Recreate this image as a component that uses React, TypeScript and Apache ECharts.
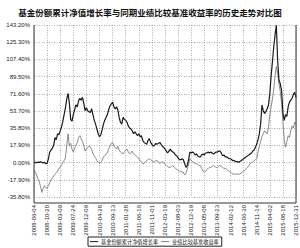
import React, { useEffect, useRef } from "react";
import * as echarts from "echarts";

const titleText = "基金份额累计净值增长率与同期业绩比较基准收益率的历史走势对比图";
const seriesNames = ["基金份额累计净值增长率", "业绩比较基准收益率"];

const dateLabels = [
  "2008-06-04", "2008-10-20", "2009-03-09", "2009-07-24", "2009-12-09",
  "2010-04-28", "2010-09-13", "2011-01-28", "2011-06-16", "2011-11-01",
  "2012-03-19", "2012-08-03", "2012-12-19", "2013-05-08", "2013-09-23",
  "2014-02-12", "2014-06-30", "2014-11-14", "2015-04-02", "2015-08-18",
  "2015-12-31",
];

const yMin = -35.8;
const yMax = 143.2;
const yStep = 17.9;

const fundValues = [
  0, 0.3, -0.2, 0.5, 0.2, 0.8, 0.4, -0.5, 0.3, -1.2,
  -0.8, 4, 11, 13, 15, 18, 26, 24, 30, 29,
  33, 37, 43, 50, 57, 66, 72, 62, 45, 43,
  50, 55, 60, 58, 64, 67, 65, 68, 62, 54,
  57, 54, 53, 52, 56, 50, 44, 40, 35, 30,
  27, 29, 34, 40, 44, 47, 50, 55, 59, 61,
  63, 58, 56, 58, 55, 47, 42, 40, 47, 45,
  44, 42, 38, 36, 35, 33, 30, 32, 30, 28,
  30, 27, 28, 23, 21, 20, 19, 23, 25, 21,
  19, 17, 18, 20, 19, 20, 21, 19, 17, 16,
  14, 12, 10, 12, 14, 12, 11, 10, 8, 7,
  5, 3, 3, 4, 3, -1, -5, -3, 3, 11,
  10, 11, 10, 8, 9, 7, 6, 6, 8, 9,
  8, 10, 10, 11, 10, 11, 10, 9, 10, 11,
  11, 12, 12, 10, 7, 8, 6, 6, 5, 4,
  4, 3, 2, 2, 1, 1, 0.5, 1, 2, 3,
  4, 5, 6, 7, 8, 9, 10, 12, 13, 16,
  19, 24, 30, 40, 60, 54, 51, 53, 56, 60,
  72, 90, 105, 120, 133, 143, 106, 86, 82, 75,
  52, 44, 50, 48, 58, 63, 65, 67, 71, 73,
  68,
];

const benchValues = [
  -8, -10, -13, -17, -20, -25, -31, -27, -24, -26,
  -27, -24, -21, -18, -16, -14, -12, -11, -9, -6,
  -5, -3, 0, 2, 5, 18, 30, 17, 20, 14,
  11, 15, 18, 21, 26, 28, 25, 22, 18, 12,
  14, 16, 17, 16, 14, 9, 7, 5, 2, 0.5,
  -1, 0, 2, 6, 7, 9, 10, 14, 17, 20,
  21, 17, 16, 14, 17, 13, 11, 10, 9, 11,
  13, 14, 11, 9, 10, 12, 9, 8, 7, 6,
  4, 2, 1, -1, -1, 1, 2, 3, 4, 3,
  2, 0.5, 1, 2, 2, 1, -1, 0, 1, 0,
  -2, -3, -4, -5, -5, -4, -3, -5, -6, -7,
  -8, -9, -9, -10, -10, -13, -11, -7, -1, 4,
  2, 1, 0, -1, -1, -2, -3, -3, -6, -9,
  -10, -9, -7, -6, -5, -5, -4, -3, -4, -5,
  -5, -4, -3, -4, -5, -6, -6, -7, -8, -9,
  -10, -11, -12, -12, -12, -12, -12, -12, -11, -10,
  -9, -8, -6, -5, -3, -1, 0, 0.5, 2, 3,
  4, 11, 17, 22, 27, 30, 33, 31, 30, 37,
  50, 58, 66, 76, 90, 100, 92, 82, 74, 62,
  42, 24, 16, 22, 28, 26, 33, 38, 36, 42,
  40,
];

const STEPS_PER_LABEL = 10;

export default function App() {
  const ref = useRef<HTMLDivElement>(null);
  useEffect(() => {
    if (!ref.current) return;
    const chart = echarts.init(ref.current, null, { renderer: "svg" });
    const lastIndex = (dateLabels.length - 1) * STEPS_PER_LABEL;
    const option: any = {
      animation: false,
      backgroundColor: "#ffffff",
      title: {
        text: titleText,
        left: "center",
        top: 3,
        textStyle: {
          fontSize: 8.5,
          fontWeight: "bold",
          color: "#111",
          fontFamily: "Noto Sans CJK SC",
        },
      },
      legend: {
        data: seriesNames.map((n) => ({ name: n, icon: "rect" })),
        left: 88,
        top: 237,
        itemWidth: 8,
        itemHeight: 1,
        itemGap: 3,
        padding: [2, 3, 2, 2],
        borderColor: "#222",
        borderWidth: 1,
        textStyle: {
          fontSize: 5.2,
          color: "#111",
          fontFamily: "Noto Sans CJK SC",
          padding: [0, 0, 0, -2],
        },
      },
      grid: { left: 34, right: 4, top: 25, bottom: 51, containLabel: false },
      xAxis: {
        type: "value",
        min: 0,
        max: lastIndex,
        interval: STEPS_PER_LABEL,
        offset: 6,
        axisLine: { show: false },
        axisTick: { show: false },
        splitLine: {
          show: true,
          lineStyle: { color: "#8a8a8a", type: [1, 1.5], width: 0.7 },
        },
        axisLabel: {
          rotate: 90,
          fontSize: 6,
          color: "#222",
          margin: 2,
          fontFamily: "Liberation Sans",
          formatter: (v: number) => dateLabels[Math.round(v / STEPS_PER_LABEL)] ?? "",
        },
      },
      yAxis: {
        type: "value",
        min: yMin,
        max: yMax,
        interval: yStep,
        axisLine: { show: false },
        axisTick: { show: false },
        splitLine: {
          show: true,
          lineStyle: { color: "#8a8a8a", type: [1, 1.5], width: 0.7 },
        },
        axisLabel: {
          fontSize: 6,
          color: "#222",
          margin: 4,
          fontFamily: "Liberation Sans",
          formatter: (v: number) => v.toFixed(2) + "%",
        },
      },
      graphic: [
        {
          type: "polyline",
          shape: { points: [[34, 25], [34, 203], [296, 203], [296, 25]] },
          style: { stroke: "#333", lineWidth: 1, fill: "none" },
          z: 10,
        },
      ],
      series: [
        {
          name: seriesNames[1],
          type: "line",
          data: benchValues.map((v, i) => [i, v]),
          showSymbol: false,
          symbol: "none",
          lineStyle: { color: "#7d7d7d", width: 0.9 },
          itemStyle: { color: "#7d7d7d" },
          z: 2,
        },
        {
          name: seriesNames[0],
          type: "line",
          data: fundValues.map((v, i) => [i, v]),
          showSymbol: false,
          symbol: "none",
          lineStyle: { color: "#1a1a1a", width: 1.2 },
          itemStyle: { color: "#1a1a1a" },
          z: 3,
        },
      ],
    };
    chart.setOption(option);
    return () => chart.dispose();
  }, []);
  return (
    <div
      ref={ref}
      style={{ position: "fixed", left: 0, top: 0, width: 300, height: 248, background: "#fff" }}
    />
  );
}
